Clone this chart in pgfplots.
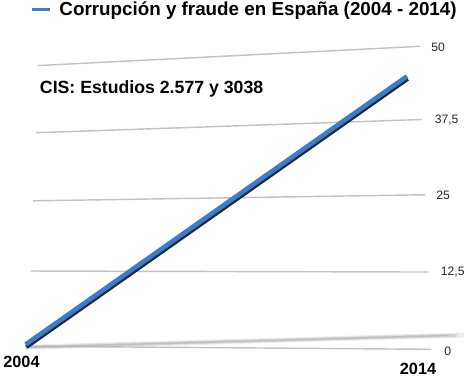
\documentclass[border=0pt]{standalone}
\usepackage{pgfplots}
\pgfplotsset{compat=1.18}
\usepackage{fontspec}
\setmainfont{Liberation Sans}
\definecolor{lineblue}{HTML}{3D7CC9}
\definecolor{linedark}{HTML}{1B2B42}
\definecolor{gridgray}{HTML}{C2C2C2}
\definecolor{shadowgray}{HTML}{B4B4B4}
\begin{document}
\begin{tikzpicture}
\begin{axis}[
  width=468pt, height=376pt, scale only axis,
  hide axis, clip=false,
  xmin=2003.28, xmax=2015.76,
  ymin=-5.9322, ymax=57.7966,
  legend style={at={(axis cs:2004.12,56.1)}, anchor=west, draw=none, fill=none,
    font=\bfseries\fontsize{18.5}{20}\selectfont, inner sep=0pt,
    /tikz/every odd column/.append style={column sep=6pt}},
  legend image code/.code={\draw[line width=3.5pt, lineblue] (0pt,0pt) -- (17pt,0pt);},
]
% gridlines (perspective)
\addplot[gridgray, line width=1.4pt, forget plot] coordinates {(2004.32,46.78) (2014.347,50.00)};
\addplot[gridgray, line width=1.4pt, forget plot] coordinates {(2004.267,35.59) (2014.40,37.80)};
\addplot[gridgray, line width=1.4pt, forget plot] coordinates {(2004.187,24.24) (2014.48,25.25)};
\addplot[gridgray, line width=1.4pt, forget plot] coordinates {(2004.133,12.54) (2014.56,12.37)};
\addplot[gridgray, line width=1.4pt, forget plot] coordinates {(2004.08,0.00) (2014.64,-0.51)};
% floor shadow of the series
\addplot[shadowgray, line width=5pt, opacity=0.25, forget plot] coordinates {(2004.0,-0.17) (2015.49,1.86)};
\addplot[shadowgray, line width=3pt, opacity=0.45, forget plot] coordinates {(2004.0,-0.17) (2015.3,1.83)};
\addplot[shadowgray, line width=1.5pt, opacity=0.6, forget plot] coordinates {(2004.0,-0.17) (2015.1,1.80)};
% series
\addplot[linedark, line width=4.2pt, line cap=butt, xshift=0.7pt, yshift=-2.4pt, forget plot] coordinates {(2004,0.3) (2014,45)};
\addplot[lineblue, line width=4.5pt, line cap=butt] coordinates {(2004,0.3) (2014,45)};
\addlegendentry{Corrupción y fraude en España (2004 - 2014)}
% value labels
\node[font=\fontsize{12}{14}\selectfont, text=black!85] at (axis cs:2014.82,49.83) {50};
\node[font=\fontsize{12}{14}\selectfont, text=black!85] at (axis cs:2015.04,37.63) {37,5};
\node[font=\fontsize{12}{14}\selectfont, text=black!85] at (axis cs:2014.95,25.08) {25};
\node[font=\fontsize{12}{14}\selectfont, text=black!85] at (axis cs:2015.20,12.37) {12,5};
\node[font=\fontsize{12}{14}\selectfont, text=black!85] at (axis cs:2015.07,-0.85) {0};
% category labels
\node[font=\bfseries\fontsize{16}{18}\selectfont] at (axis cs:2003.89,-2.54) {2004};
\node[font=\bfseries\fontsize{16}{18}\selectfont] at (axis cs:2014.29,-3.73) {2014};
% annotation
\node[font=\bfseries\fontsize{17.4}{20}\selectfont, anchor=west, inner sep=0pt] at (axis cs:2004.37,42.88) {CIS: Estudios 2.577 y 3038};
\end{axis}
\end{tikzpicture}
\end{document}
